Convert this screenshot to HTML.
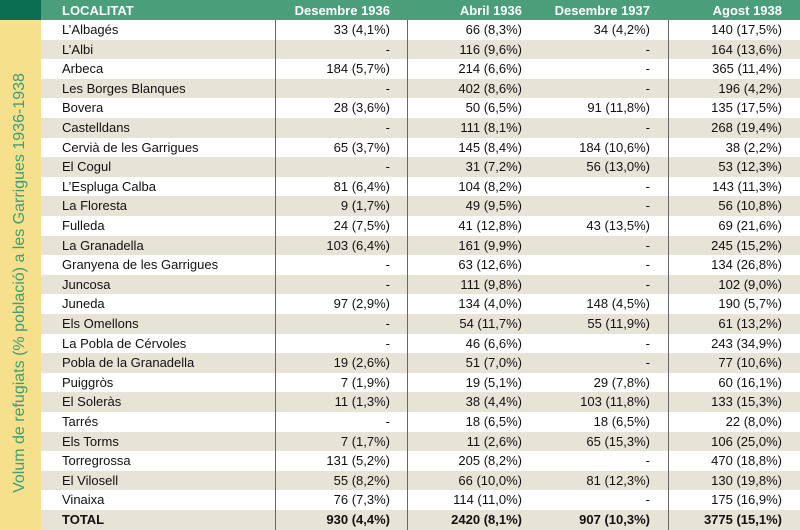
<!DOCTYPE html>
<html><head><meta charset="utf-8"><style>
body{margin:0;width:800px;height:530px;overflow:hidden;background:#fff;font-family:"Liberation Sans",sans-serif;}
#w{position:relative;width:800px;height:530px;}
.side{position:absolute;left:0;top:20px;width:41px;height:510px;background:#f7e08c;}
.corner{position:absolute;left:0;top:0;width:41px;height:20px;background:#0a6e52;}
.hdr{position:absolute;left:41px;top:0;width:759px;height:20px;background:#4a9e7a;}
.vl{position:absolute;left:20px;top:283px;transform:translate(-50%,-50%) rotate(-90deg);white-space:nowrap;color:#3aa078;font-size:16px;}
.row{position:absolute;left:41px;width:759px;height:19px;font-size:13px;color:#111;}
.row.alt{background:#e7e3d6;}
.row span,.hdr span{position:absolute;top:2px;white-space:nowrap;}
.hdr span{color:#fff;font-weight:bold;font-size:13px;top:3px;}
.c0{left:21px;}
.c1{right:410px;}
.c2{right:278px;}
.c3{right:150px;}
.c4{right:18px;}
.ln{position:absolute;top:20px;width:1px;height:510px;background:#666;}
.tot span{font-weight:bold;}
</style></head><body><div id="w">
<div class="corner"></div><div class="side"></div>
<div class="vl">Volum de refugiats (% població) a les Garrigues 1936-1938</div>
<div class="hdr"><span class="c0">LOCALITAT</span><span class="c1">Desembre 1936</span><span class="c2">Abril 1936</span><span class="c3">Desembre 1937</span><span class="c4">Agost 1938</span></div>
<div id="rows"></div>
<div class="ln" style="left:275px"></div><div class="ln" style="left:407px"></div><div class="ln" style="left:668px"></div>
</div>
<script>
var d=[["L’Albagés","33 (4,1%)","66 (8,3%)","34 (4,2%)","140 (17,5%)"],
["L’Albi","-","116 (9,6%)","-","164 (13,6%)"],
["Arbeca","184 (5,7%)","214 (6,6%)","-","365 (11,4%)"],
["Les Borges Blanques","-","402 (8,6%)","-","196 (4,2%)"],
["Bovera","28 (3,6%)","50 (6,5%)","91 (11,8%)","135 (17,5%)"],
["Castelldans","-","111 (8,1%)","-","268 (19,4%)"],
["Cervià de les Garrigues","65 (3,7%)","145 (8,4%)","184 (10,6%)","38 (2,2%)"],
["El Cogul","-","31 (7,2%)","56 (13,0%)","53 (12,3%)"],
["L’Espluga Calba","81 (6,4%)","104 (8,2%)","-","143 (11,3%)"],
["La Floresta","9 (1,7%)","49 (9,5%)","-","56 (10,8%)"],
["Fulleda","24 (7,5%)","41 (12,8%)","43 (13,5%)","69 (21,6%)"],
["La Granadella","103 (6,4%)","161 (9,9%)","-","245 (15,2%)"],
["Granyena de les Garrigues","-","63 (12,6%)","-","134 (26,8%)"],
["Juncosa","-","111 (9,8%)","-","102 (9,0%)"],
["Juneda","97 (2,9%)","134 (4,0%)","148 (4,5%)","190 (5,7%)"],
["Els Omellons","-","54 (11,7%)","55 (11,9%)","61 (13,2%)"],
["La Pobla de Cérvoles","-","46 (6,6%)","-","243 (34,9%)"],
["Pobla de la Granadella","19 (2,6%)","51 (7,0%)","-","77 (10,6%)"],
["Puiggròs","7 (1,9%)","19 (5,1%)","29 (7,8%)","60 (16,1%)"],
["El Soleràs","11 (1,3%)","38 (4,4%)","103 (11,8%)","133 (15,3%)"],
["Tarrés","-","18 (6,5%)","18 (6,5%)","22 (8,0%)"],
["Els Torms","7 (1,7%)","11 (2,6%)","65 (15,3%)","106 (25,0%)"],
["Torregrossa","131 (5,2%)","205 (8,2%)","-","470 (18,8%)"],
["El Vilosell","55 (8,2%)","66 (10,0%)","81 (12,3%)","130 (19,8%)"],
["Vinaixa","76 (7,3%)","114 (11,0%)","-","175 (16,9%)"],
["TOTAL","930 (4,4%)","2420 (8,1%)","907 (10,3%)","3775 (15,1%)"]];
var h="";d.forEach(function(r,i){var t=20+i*19.6;h+='<div class="row'+(i%2?' alt':'')+(i==25?' tot':'')+'" style="top:'+t+'px;height:19.6px">';r.forEach(function(c,j){h+='<span class="c'+j+'">'+c+'</span>';});h+='</div>';});
document.getElementById("rows").innerHTML=h;
</script>
</body></html>
